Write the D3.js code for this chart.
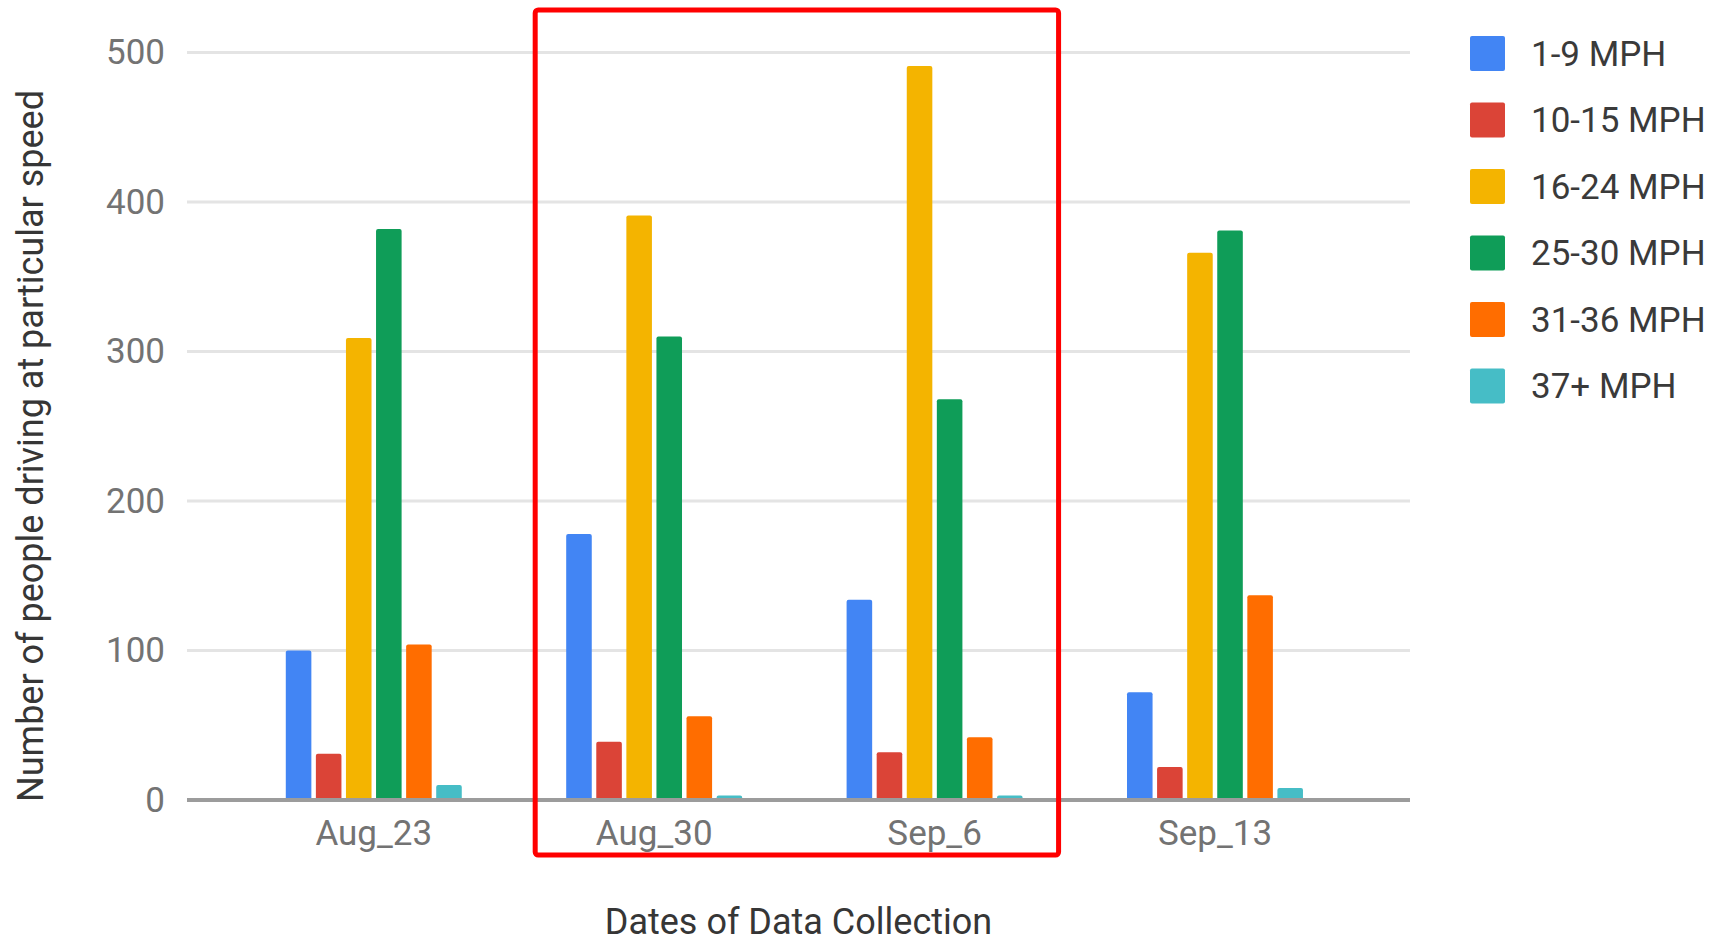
<!DOCTYPE html>
<meta charset="utf-8">
<style>
body { margin: 0; background: #fff; }
text { font-family: Roboto, "Noto Sans", sans-serif; }
.tick text { fill: #737373; font-size: 35px; }
.title { fill: #363636; font-size: 36px; }
.legend text { fill: #3a3a3a; font-size: 35px; }
</style>
<svg width="1725" height="941"></svg>
<script src="https://d3js.org/d3.v7.min.js"></script>
<script>

var dates = ["Aug_23", "Aug_30", "Sep_6", "Sep_13"];
var speeds = ["1-9 MPH", "10-15 MPH", "16-24 MPH", "25-30 MPH", "31-36 MPH", "37+ MPH"];
var colors = ["#4285f4", "#db4437", "#f4b400", "#0f9d58", "#ff6d00", "#46bdc6"];
var yTicks = [0, 100, 200, 300, 400, 500];

// one array per speed band, one value per date
var mph1to9   = [100, 178, 134, 72];
var mph10to15 = [31, 39, 32, 22];
var mph16to24 = [309, 391, 491, 366];
var mph25to30 = [382, 310, 268, 381];
var mph31to36 = [104, 56, 42, 137];
var mph37plus = [10, 3, 3, 8];
var series = [mph1to9, mph10to15, mph16to24, mph25to30, mph31to36, mph37plus];

var svg = d3.select("svg");

// plot area (note: "top" is taken by window.top)
var plotL = 187, plotR = 1410, plotT = 52.5, plotB = 800;

var x0 = d3.scaleBand()
    .domain(dates)
    .range([plotL, plotR])
    .paddingInner(0.3724)
    .paddingOuter(0.367)
    .align(0.48);

var x1 = d3.scaleBand()
    .domain(d3.range(speeds.length))
    .range([0, x0.bandwidth()])
    .paddingInner(0.15);

var y = d3.scaleLinear()
    .domain([0, 500])
    .range([plotB, plotT]);

var color = d3.scaleOrdinal().domain(d3.range(speeds.length)).range(colors);

// gridlines
svg.append("g")
  .selectAll("line")
  .data(yTicks.filter(function(d) { return d > 0; }))
  .enter().append("line")
    .attr("x1", plotL)
    .attr("x2", plotR)
    .attr("y1", function(d) { return y(d); })
    .attr("y2", function(d) { return y(d); })
    .attr("stroke", "#e4e4e4")
    .attr("stroke-width", 3);

// y axis labels
var yAxis = svg.append("g")
    .attr("transform", "translate(" + (plotL - 5) + ",0)")
    .call(d3.axisLeft(y).tickValues(yTicks).tickSize(0).tickPadding(17));
yAxis.select(".domain").remove();
yAxis.selectAll(".tick text").attr("fill", null);

// bars
var groups = svg.append("g")
  .selectAll("g")
  .data(dates)
  .enter().append("g")
    .attr("transform", function(d) { return "translate(" + x0(d) + ",0)"; });

groups.selectAll("rect")
  .data(function(d, i) { return series.map(function(s, k) { return {k: k, v: s[i]}; }); })
  .enter().append("rect")
    .attr("x", function(d) { return x1(d.k); })
    .attr("y", function(d) { return y(d.v); })
    .attr("width", x1.bandwidth())
    .attr("height", function(d) { return plotB - y(d.v); })
    .attr("rx", 2)
    .attr("fill", function(d) { return color(d.k); });

// baseline + x labels
var xAxis = svg.append("g")
    .attr("transform", "translate(0," + plotB + ")")
    .call(d3.axisBottom(x0).tickSize(0).tickPadding(20));
xAxis.select(".domain").remove();
xAxis.selectAll(".tick text").attr("fill", null).attr("dy", "0.71em");

svg.append("line")
    .attr("x1", plotL)
    .attr("x2", plotR)
    .attr("y1", y(0))
    .attr("y2", y(0))
    .attr("stroke", "#9c9c9c")
    .attr("stroke-width", 4);

// axis titles
svg.append("text")
    .attr("class", "title")
    .attr("x", (plotL + plotR) / 2)
    .attr("y", 934)
    .attr("text-anchor", "middle")
    .text("Dates of Data Collection");

svg.append("text")
    .attr("class", "title")
    .attr("transform", "translate(43,446) rotate(-90)")
    .attr("text-anchor", "middle")
    .text("Number of people driving at particular speed");

// legend
var legend = svg.append("g")
    .attr("class", "legend")
  .selectAll("g")
  .data(speeds)
  .enter().append("g")
    .attr("transform", function(d, i) { return "translate(1470," + (36 + i * 66.5) + ")"; });

legend.append("rect")
    .attr("width", 35)
    .attr("height", 35)
    .attr("rx", 2)
    .attr("fill", function(d, i) { return colors[i]; });

legend.append("text")
    .attr("x", 61)
    .attr("y", 17.5)
    .attr("dy", "0.35em")
    .text(function(d) { return d; });

// red highlight box round Aug_30 and Sep_6
var boxL = x0("Aug_30") - 31,
    boxR = x0("Sep_6") + x0.bandwidth() + 36;
svg.append("rect")
    .attr("x", boxL)
    .attr("y", 10)
    .attr("width", boxR - boxL)
    .attr("height", 845)
    .attr("rx", 3)
    .attr("fill", "none")
    .attr("stroke", "#ff0000")
    .attr("stroke-width", 5);

</script>
